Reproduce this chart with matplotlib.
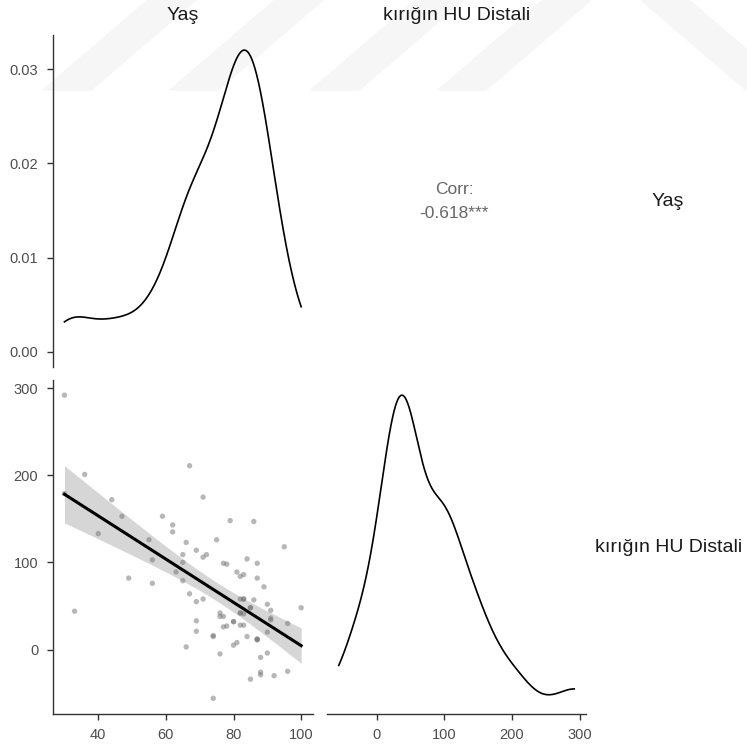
import numpy as np
import matplotlib
matplotlib.use("Agg")
import matplotlib.pyplot as plt
from matplotlib.patches import Polygon

# ---------------- data ----------------
yas = [30, 30, 33, 36, 40, 44, 47, 49, 55, 56, 56, 59, 62, 62, 63, 65, 65, 65, 66, 66,
       67, 67, 69, 69, 69, 69, 71, 71, 72, 71, 74, 74, 74, 75, 76, 76, 76, 77, 78, 77,
       77, 78, 79, 80, 80, 81, 81, 82, 83, 82, 83, 82, 83, 82, 83, 84, 84, 85, 85, 86,
       86, 87, 87, 87, 87, 88, 88, 88, 89, 90, 90, 90, 91, 91, 91, 92, 95, 96, 96, 100,
       87, 80, 83, 85, 82]
hu = [292, 179, 44, 201, 133, 172, 153, 82, 126, 103, 76, 153, 143, 135, 89, 109, 100, 79, 123, 3,
      211, 64, 114, 55, 33, 21, 175, 106, 109, 58, 16, 15, -56, 126, 42, 38, -5, 99, 98, 38,
      26, 27, 148, 32, 5, 89, 8, 84, 86, 58, 58, 42, 41, 28, 28, 104, 15, 48, -34, 147,
      57, 99, 82, 12, 11, -9, -26, -29, 72, 52, 20, -4, 45, 36, 34, -30, 118, 30, -25, 48,
      12, 32, 58, 48, 42]
var_names = ["Yaş", "kırığın HU Distali"]
corr_label = "Corr:\n-0.618***"
yas_ticks = [40, 60, 80, 100]
hu_ticks = [0, 100, 200, 300]
dens_ticks = [0.00, 0.01, 0.02, 0.03]

x = np.array(yas, float)
y = np.array(hu, float)

def kde(v, n=512):
    v = np.asarray(v, float)
    sd = v.std(ddof=1)
    iqr = np.subtract(*np.percentile(v, [75, 25]))
    bw = 0.9 * min(sd, iqr / 1.34) * len(v) ** (-0.2)
    g = np.linspace(v.min(), v.max(), n)
    d = np.exp(-0.5 * ((g[:, None] - v[None, :]) / bw) ** 2).sum(1) / (len(v) * bw * np.sqrt(2 * np.pi))
    return g, d

def lim(a, b):
    r = b - a
    return a - 0.05 * r, b + 0.05 * r

# ---------------- style ----------------
plt.rcParams['font.family'] = ['Liberation Sans', 'DejaVu Sans']
W = 747
fig = plt.figure(figsize=(7.47, 7.47), dpi=100)

# faint background watermark stripes
wm_col = "#f6f6f6"
for x0 in [43, 170, 311, 438]:
    pts = [(x0, 90), (x0 + 48, 90), (x0 + 153, 0), (x0 + 105, 0)]
    fig.patches.append(Polygon([(px / W, 1 - py / W) for px, py in pts], closed=True,
                               transform=fig.transFigure, color=wm_col, zorder=-5))
pts = [(641, 0), (689, 0), (794, 90), (746, 90)]
fig.patches.append(Polygon([(px / W, 1 - py / W) for px, py in pts], closed=True,
                           transform=fig.transFigure, color=wm_col, zorder=-5))

def axes_px(x0, x1, y0, y1):
    ax = fig.add_axes([x0 / W, 1 - y1 / W, (x1 - x0) / W, (y1 - y0) / W])
    ax.set_zorder(2)
    ax.patch.set_alpha(0)
    for s in ax.spines.values():
        s.set_visible(False)
        s.set_linewidth(1.0)
    ax.tick_params(length=4.3, width=1.0, color="#333333", labelsize=10.5,
                   labelcolor="#4d4d4d", pad=6)
    return ax

LX0, LX1 = 52.6, 313
RX0, RX1 = 327, 586
TY0, TY1 = 35, 367
BY0, BY1 = 380, 713.5

xlim = lim(x.min(), x.max())
ylim = lim(y.min(), y.max())

# top-left: density of Yaş
ax1 = axes_px(LX0, LX1, TY0, TY1)
g, d = kde(x)
ax1.plot(g, d, color="black", lw=1.2)
ax1.set_xlim(*xlim)
ax1.set_ylim(*lim(0, d.max()))
ax1.spines['left'].set_visible(True)
ax1.spines['left'].set_color("#333333")
ax1.set_yticks(dens_ticks)
ax1.set_yticklabels([f"{t:.2f}" for t in dens_ticks])
ax1.set_xticks([])

# bottom-left: scatter + lm
ax2 = axes_px(LX0, LX1, BY0, BY1)
ax2.scatter(x, y, s=15, color="#707070", alpha=0.5, edgecolors="none", zorder=2)
n = len(x)
b1, b0 = np.polyfit(x, y, 1)
xs = np.linspace(x.min(), x.max(), 80)
yh = b0 + b1 * xs
resid = y - (b0 + b1 * x)
s = np.sqrt((resid ** 2).sum() / (n - 2))
se = s * np.sqrt(1 / n + (xs - x.mean()) ** 2 / ((x - x.mean()) ** 2).sum())
tq = 1.99
ax2.fill_between(xs, yh - tq * se, yh + tq * se, color="#999999", alpha=0.4, lw=0, zorder=1)
ax2.plot(xs, yh, color="black", lw=2.2, zorder=3)
ax2.set_xlim(*xlim)
ax2.set_ylim(*ylim)
ax2.spines['left'].set_visible(True)
ax2.spines['bottom'].set_visible(True)
ax2.spines['left'].set_color("#333333")
ax2.spines['bottom'].set_color("#333333")
ax2.set_xticks(yas_ticks)
ax2.set_yticks(hu_ticks)

# bottom-right: density of HU
ax3 = axes_px(RX0, RX1, BY0, BY1)
g2, d2 = kde(y)
ax3.plot(g2, d2, color="black", lw=1.2)
ax3.set_xlim(*ylim)
ax3.set_ylim(*lim(0, d2.max()))
ax3.spines['bottom'].set_visible(True)
ax3.spines['bottom'].set_color("#333333")
ax3.set_xticks(hu_ticks)
ax3.set_yticks([])

# top-right: correlation text
fig.text(454 / W, 1 - 201 / W, corr_label, ha="center", va="center",
         fontsize=12.5, color="#666666", linespacing=1.75)

# strip labels
fs = 14
fig.text((LX0 + LX1) / 2 / W, 1 - 15 / W, var_names[0], ha="center", va="center",
         fontsize=fs, color="#1a1a1a")
fig.text((RX0 + RX1) / 2 / W, 1 - 15 / W, var_names[1], ha="center", va="center",
         fontsize=fs, color="#1a1a1a")
fig.text(668 / W, 1 - 202 / W, var_names[0], ha="center", va="center",
         fontsize=fs, color="#1a1a1a")
fig.text(669 / W, 1 - 548 / W, var_names[1], ha="center", va="center",
         fontsize=fs, color="#1a1a1a")

fig.savefig("out.png", dpi=100)
